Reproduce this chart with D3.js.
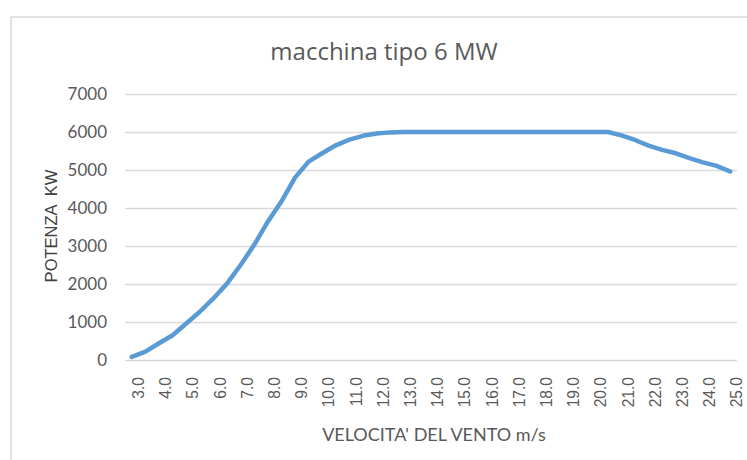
<!DOCTYPE html>
<html lang="it">
<head>
  <meta charset="UTF-8" />
  <title>macchina tipo 6 MW</title>
  <script src="https://d3js.org/d3.v7.min.js"></script>
  <style>
    body { margin: 0; background: #fff; }
    svg { display: block; }
    .grid line { stroke: #d9d9d9; stroke-width: 1.5; }
    .y-axis text { font-family: Lato, sans-serif; font-size: 17px; fill: #595959; }
    .x-axis text { font-family: "Liberation Sans", Arial, sans-serif; font-size: 15.6px; fill: #595959; }
  </style>
</head>
<body>
<svg width="747" height="460"></svg>

<script>
  // velocita' del vento (m/s) - categorie dell'asse x
  const velocita = ["3.0","3.5","4.0","4.5","5.0","5.5","6.0","6.5","7.0","7.5",
                    "8.0","8.5","9.0","9.5","10.0","10.5","11.0","11.5","12.0","12.5",
                    "13.0","13.5","14.0","14.5","15.0","15.5","16.0","16.5","17.0","17.5",
                    "18.0","18.5","19.0","19.5","20.0","20.5","21.0","21.5","22.0","22.5",
                    "23.0","23.5","24.0","24.5","25.0"];
  // potenza (kW)
  const potenza = [80, 220, 440, 650, 960, 1270, 1620, 2010, 2500, 3030,
                   3640, 4170, 4800, 5220, 5440, 5650, 5800, 5900, 5960, 5990,
                   6000, 6000, 6000, 6000, 6000, 6000, 6000, 6000, 6000, 6000,
                   6000, 6000, 6000, 6000, 6000, 6000, 5910, 5790, 5640, 5530,
                   5440, 5310, 5200, 5110, 4960];
  // etichette visibili sull'asse x (una ogni due categorie)
  const etichetteX = ["3.0","4.0","5.0","6.0","7.0","8.0","9.0","10.0","11.0","12.0",
                      "13.0","14.0","15.0","16.0","17.0","18.0","19.0","20.0","21.0","22.0",
                      "23.0","24.0","25.0"];
  const tickY = [0, 1000, 2000, 3000, 4000, 5000, 6000, 7000];

  const svg = d3.select("svg");
  const plotL = 125, plotR = 737, plotT = 94, plotB = 360;

  // bordo del grafico (come in Excel)
  svg.append("rect")
    .attr("x", 11).attr("y", 17)
    .attr("width", 800).attr("height", 500)
    .attr("fill", "none")
    .attr("stroke", "#d9d9d9")
    .attr("stroke-width", 1.5);

  const x = d3.scaleBand().domain(velocita).range([plotL, plotR]);
  const y = d3.scaleLinear().domain([0, 7000]).range([plotB, plotT]);

  // griglia
  svg.append("g")
    .attr("class", "grid")
    .attr("transform", `translate(${plotL},0)`)
    .call(d3.axisLeft(y).tickValues(tickY).tickSize(-(plotR - plotL)).tickFormat(""))
    .call(g => g.select(".domain").remove());

  // asse y
  svg.append("g")
    .attr("class", "y-axis")
    .attr("transform", `translate(${plotL},0)`)
    .call(d3.axisLeft(y).tickValues(tickY).tickSize(0).tickPadding(18).tickFormat(d3.format("d")))
    .call(g => g.select(".domain").remove());

  // asse x (etichette ruotate)
  svg.append("g")
    .attr("class", "x-axis")
    .attr("transform", `translate(${x.bandwidth() / 2},${plotB})`)
    .call(d3.axisBottom(x).tickValues(etichetteX).tickSize(0))
    .call(g => g.select(".domain").remove())
    .selectAll("text")
      .attr("transform", "translate(0,17) rotate(-90)")
      .attr("x", 0).attr("y", 0)
      .attr("dy", "0.35em")
      .attr("text-anchor", "end");

  // curva di potenza
  const line = d3.line()
    .x((d, i) => x(velocita[i]) + x.bandwidth() / 2)
    .y(d => y(d));

  svg.append("path")
    .datum(potenza)
    .attr("fill", "none")
    .attr("stroke", "#5b9bd5")
    .attr("stroke-width", 4.5)
    .attr("stroke-linejoin", "round")
    .attr("stroke-linecap", "round")
    .attr("d", line);

  // titoli
  svg.append("text")
    .attr("x", 384).attr("y", 60)
    .attr("text-anchor", "middle")
    .style("font-family", "'Open Sans', sans-serif")
    .style("font-size", "24px")
    .style("fill", "#595959")
    .text("macchina tipo 6 MW");

  svg.append("text")
    .attr("x", 434).attr("y", 441)
    .attr("text-anchor", "middle")
    .style("font-family", "Lato, sans-serif")
    .style("font-size", "18px")
    .style("fill", "#595959")
    .text("VELOCITA' DEL VENTO m/s");

  svg.append("text")
    .attr("transform", "translate(57,226) rotate(-90)")
    .attr("text-anchor", "middle")
    .style("white-space", "pre")
    .style("font-family", "'Liberation Sans', Arial, sans-serif")
    .style("font-size", "16.5px")
    .style("fill", "#404040")
    .text("POTENZA  KW");
</script>

</body>
</html>
